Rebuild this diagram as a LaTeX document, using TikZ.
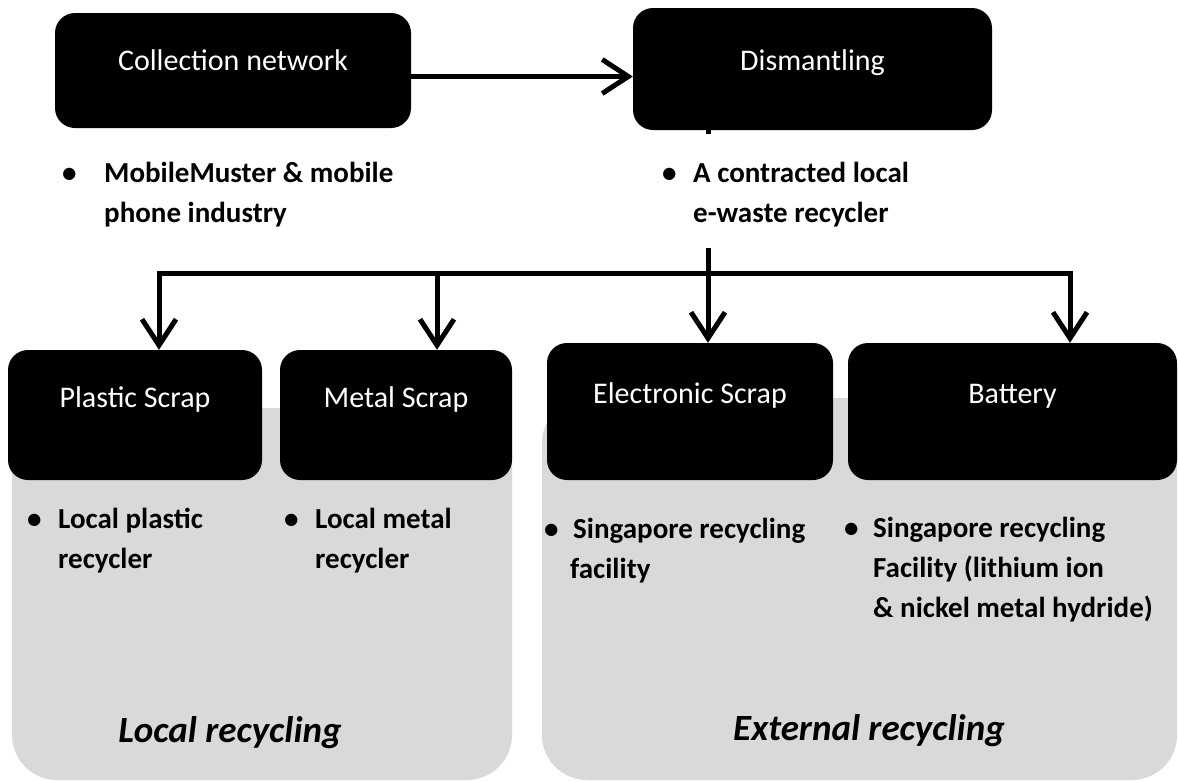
\documentclass[tikz,border=0pt]{standalone}
\usepackage{fontspec}
\setmainfont{Carlito}
\usepackage{tikz}
\usetikzlibrary{arrows.meta}

\newcommand{\boxfont}{\fontsize{30}{36}\selectfont}
\newcommand{\itemfont}{\fontsize{29}{40}\selectfont\bfseries}
\newcommand{\groupfont}{\fontsize{37}{44}\selectfont\bfseries\itshape}

\begin{document}
\begin{tikzpicture}[x=1pt, y=-1pt,
  stagebox/.style={fill=black, text=white, rounded corners=20pt, inner sep=0pt, anchor=base, font=\boxfont},
  panel/.style={fill=black!15, rounded corners=45pt},
  flow/.style={line width=5pt, -{Straight Barb[length=26pt,width=34pt]}},
  bul/.style={anchor=base west, align=left, inner sep=0pt, font=\itemfont},
  group/.style={anchor=base, inner sep=0pt, font=\groupfont}]
  \useasboundingbox (0,0) rectangle (1178,780);
  \fill[panel] (12,408) rectangle (512,780);
  \fill[panel] (542,398) rectangle (1177,780);
  \node[stagebox, minimum width=356pt, text height=57pt, text depth=58pt] (coll) at (233,70) {Collection network};
  \node[stagebox, minimum width=359pt, text height=62pt, text depth=60pt] (dism) at (812.5,70) {Dismantling};
  \node[stagebox, minimum width=254pt, text height=57pt, text depth=73pt] (plast) at (135,407) {Plastic Scrap};
  \node[stagebox, minimum width=232pt, text height=57pt, text depth=73pt] (metal) at (396,407) {Metal Scrap};
  \node[stagebox, minimum width=286pt, text height=60pt, text depth=77pt] (elec) at (690,403) {Electronic Scrap};
  \node[stagebox, minimum width=329pt, text height=60pt, text depth=77pt] (batt) at (1012.5,403) {Battery};
  % bullet notes, placed by the baseline of their last line
  \node[bul] (collnote) at (62,222) {\makebox[42pt][l]{\textbullet}MobileMuster \& mobile\\\hspace*{42pt}phone industry};
  \node[bul] (dismnote) at (662,222) {\makebox[31pt][l]{\textbullet}A contracted local\\\hspace*{31pt}e-waste recycler};
  \node[bul] (plastnote) at (27,568) {\makebox[31pt][l]{\textbullet}Local plastic\\\hspace*{31pt}recycler};
  \node[bul] (metalnote) at (284,568) {\makebox[31pt][l]{\textbullet}Local metal\\\hspace*{31pt}recycler};
  \node[bul] (elecnote) at (544,578) {\makebox[29pt][l]{\textbullet}Singapore recycling\\\hspace*{26pt}facility};
  \node[bul] (battnote) at (844,617) {\makebox[29pt][l]{\textbullet}Singapore recycling\\\hspace*{29pt}Facility (lithium ion\\\hspace*{29pt}\& nickel metal hydride)};
  \node[group] (local) at (230,742) {Local recycling};
  \node[group] (extern) at (869,740) {External recycling};
  \coordinate (hub) at (708,248);
  \coordinate (bar) at (708,273);
  \draw[flow] ([yshift=-6pt]coll.east) -- ([yshift=-6pt]coll.east -| dism.west);
  \draw[line width=5pt] (hub |- dism.south) -- ++(0,4);
  \draw[flow] (bar) -| ([xshift=24pt]plast.north);
  \draw[flow] (bar) -| ([xshift=41pt]metal.north);
  \draw[flow] (bar) -| ([xshift=57.5pt]batt.north);
  \draw[flow] (hub) -- (hub |- elec.north);
\end{tikzpicture}
\end{document}
